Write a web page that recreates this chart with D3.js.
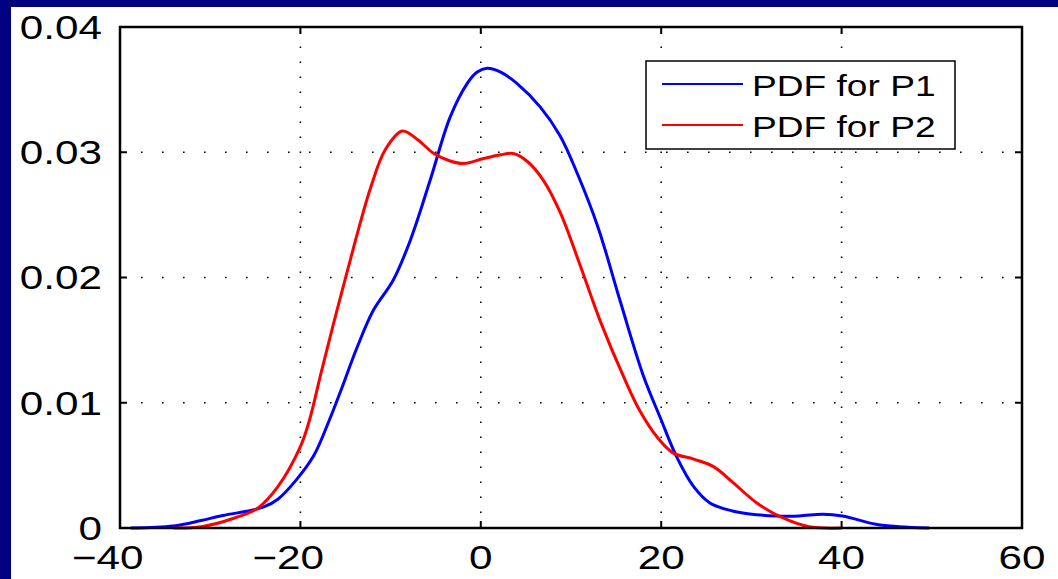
<!DOCTYPE html>
<html>
<head>
<meta charset="utf-8">
<script src="https://cdn.jsdelivr.net/npm/d3@7"></script>
<style>
  html, body { margin: 0; padding: 0; background: #ffffff; }
  svg { display: block; }
  text { font-family: "Liberation Sans", Arial, Helvetica, sans-serif; fill: #000; }
</style>
</head>
<body>
<svg id="chart" width="1058" height="579"></svg>
<script>
// ---- data ----
const p1X = [-38.8, -34.1, -31, -28.6, -25.5, -24, -22.5, -20.5, -18.5, -16.8, -15.5, -13.7, -11.9, -9.7, -7.8, -5.6, -3.4, -1.5, -0.4, 0.7, 2.2, 4.0, 6.6, 8.8, 10.7, 13, 15.5, 18, 19.9, 21.7, 23.6, 25.4, 27.9, 29.8, 32.8, 35.3, 37.9, 40.1, 43.8, 46.4, 49.7];
const p1Y = [0, 0.00016, 0.0006, 0.001, 0.0014, 0.0017, 0.0023, 0.0038, 0.0058, 0.0086, 0.011, 0.01445, 0.0174, 0.0198, 0.023, 0.0278, 0.0328, 0.0355, 0.0364, 0.0367, 0.0364, 0.0355, 0.0336, 0.0313, 0.0283, 0.024, 0.018, 0.0122, 0.0088, 0.0057, 0.0033, 0.002, 0.00136, 0.00112, 0.00096, 0.00096, 0.0011, 0.00096, 0.0003, 0.0001, 0];
const p2X = [-34.1, -31, -27.3, -24.7, -22.5, -20, -19, -17.7, -16.3, -14.8, -13.5, -12.2, -10.6, -8.7, -7.0, -5.2, -3.4, -1.9, 0.3, 2.2, 3.6, 5.1, 6.9, 8.8, 11, 13.2, 16, 17.6, 19.5, 21.3, 23.6, 25.8, 28, 30.6, 33.2, 36.4, 40];
const p2Y = [0, 0.0001, 0.0008, 0.0016, 0.0033, 0.0065, 0.0086, 0.0124, 0.0164, 0.0205, 0.024, 0.0272, 0.0302, 0.0317, 0.031, 0.0299, 0.0293, 0.0291, 0.0295, 0.0298, 0.0299, 0.0293, 0.0278, 0.0252, 0.021, 0.0166, 0.0118, 0.0094, 0.0073, 0.006, 0.0055, 0.0049, 0.0036, 0.002, 0.0009, 0.0001, 0];
const seriesNames = ["PDF for P1", "PDF for P2"];
const xTicks = [-40, -20, 0, 20, 40, 60];
const yTicks = [0, 0.01, 0.02, 0.03, 0.04];
const yTickLabels = ["0", "0.01", "0.02", "0.03", "0.04"];

// ---- layout ----
const W = 1058, H = 579;
const plot = { left: 120, right: 1022, top: 27, bottom: 528 };
const stretch = 1.28;   // glyphs in the reference are horizontally stretched
const fs = 33;

const svg = d3.select("#chart");

// background frame
svg.append("rect").attr("x", 0).attr("y", 0).attr("width", W).attr("height", H).attr("fill", "#ffffff");
svg.append("rect").attr("x", 0).attr("y", 0).attr("width", W).attr("height", 7).attr("fill", "#000080");
svg.append("rect").attr("x", 0).attr("y", 0).attr("width", 11).attr("height", H).attr("fill", "#000080");

const x = d3.scaleLinear().domain([-40, 60]).range([plot.left, plot.right]);
const y = d3.scaleLinear().domain([0, 0.04]).range([plot.bottom, plot.top]);

// grid (dotted)
const grid = svg.append("g");
grid.selectAll("line.gx").data(xTicks.slice(1, -1)).enter().append("line")
  .attr("x1", d => x(d)).attr("x2", d => x(d))
  .attr("y1", plot.bottom).attr("y2", plot.top)
  .attr("stroke", "#000").attr("stroke-width", 1.6)
  .attr("stroke-dasharray", "1.6 13.4");
grid.selectAll("line.gy").data(yTicks.slice(1, -1)).enter().append("line")
  .attr("x1", plot.left).attr("x2", plot.right)
  .attr("y1", d => y(d)).attr("y2", d => y(d))
  .attr("stroke", "#000").attr("stroke-width", 1.6)
  .attr("stroke-dasharray", "1.6 19.4");

// inward ticks on all four sides
const tickLen = 7;
const ticks = svg.append("g").attr("stroke", "#000").attr("stroke-width", 2);
xTicks.forEach(t => {
  ticks.append("line").attr("x1", x(t)).attr("x2", x(t)).attr("y1", plot.bottom).attr("y2", plot.bottom - tickLen);
  ticks.append("line").attr("x1", x(t)).attr("x2", x(t)).attr("y1", plot.top).attr("y2", plot.top + tickLen);
});
yTicks.forEach(t => {
  ticks.append("line").attr("x1", plot.left).attr("x2", plot.left + tickLen).attr("y1", y(t)).attr("y2", y(t));
  ticks.append("line").attr("x1", plot.right).attr("x2", plot.right - tickLen).attr("y1", y(t)).attr("y2", y(t));
});

// curves
const line = d3.line().x(d => x(d[0])).y(d => y(d[1])).curve(d3.curveCatmullRom.alpha(0.5));
const d1 = p1X.map((v, i) => [v, p1Y[i]]);
const d2 = p2X.map((v, i) => [v, p2Y[i]]);
svg.append("path").datum(d1).attr("d", line).attr("fill", "none").attr("stroke", "#0000ff").attr("stroke-width", 3);
svg.append("path").datum(d2).attr("d", line).attr("fill", "none").attr("stroke", "#ff0000").attr("stroke-width", 3);

// axes box
svg.append("rect").attr("x", plot.left).attr("y", plot.top)
  .attr("width", plot.right - plot.left).attr("height", plot.bottom - plot.top)
  .attr("fill", "none").attr("stroke", "#000").attr("stroke-width", 2.5);

// y tick labels
yTicks.forEach((t, i) => {
  svg.append("text")
    .attr("transform", `translate(102,${y(t) + 0.358 * fs}) scale(${stretch},1)`)
    .attr("text-anchor", "end").attr("font-size", fs)
    .text(yTickLabels[i]);
});
// x tick labels (digits centred on tick, minus hangs to the left)
xTicks.forEach(t => {
  const digits = String(Math.abs(t)).length;
  const label = (t < 0 ? "\u2212" : "") + Math.abs(t);
  svg.append("text")
    .attr("transform", `translate(${x(t)},569) scale(${stretch},1)`)
    .attr("text-anchor", "end").attr("font-size", fs)
    .attr("x", digits * 0.556 * fs / 2)
    .text(label);
});

// legend
const lg = svg.append("g");
lg.append("rect").attr("x", 646).attr("y", 61).attr("width", 309).attr("height", 88)
  .attr("fill", "#fff").attr("stroke", "#000").attr("stroke-width", 1.5);
const lgColors = ["#0000ff", "#ff0000"];
const lgY = [84, 125];
seriesNames.forEach((name, i) => {
  lg.append("line").attr("x1", 662).attr("x2", 743).attr("y1", lgY[i]).attr("y2", lgY[i])
    .attr("stroke", lgColors[i]).attr("stroke-width", 2);
  lg.append("text")
    .attr("transform", `translate(752,${lgY[i] + 12}) scale(${stretch},1)`)
    .attr("font-size", 29)
    .text(name);
});
</script>
</body>
</html>
